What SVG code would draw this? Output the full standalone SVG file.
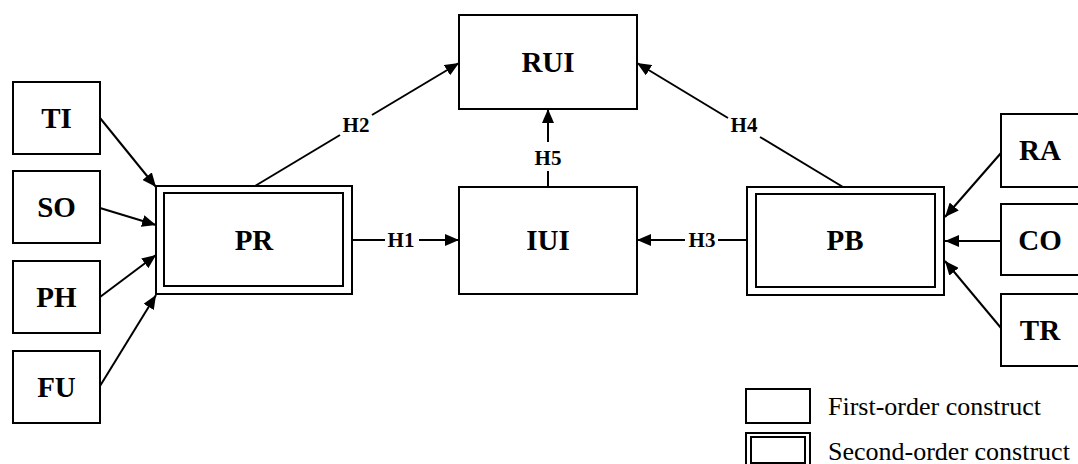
<svg xmlns="http://www.w3.org/2000/svg" width="1078" height="464" viewBox="0 0 1078 464">
  <style>
    .box{fill:#fff;stroke:#000;stroke-width:2}
    .lbl{font-family:"Liberation Serif","Times New Roman",serif;font-weight:bold;font-size:29px;text-anchor:middle;fill:#000}
    .h{font-family:"Liberation Serif","Times New Roman",serif;font-weight:bold;font-size:21px;text-anchor:middle;fill:#000}
    .leg{font-family:"Liberation Serif","Times New Roman",serif;font-size:26px;fill:#000}
    .ln{stroke:#000;stroke-width:2;fill:none}
  </style>
  <defs>
    <marker id="ah" markerUnits="userSpaceOnUse" markerWidth="14" markerHeight="12" refX="14" refY="6" orient="auto">
      <path d="M0,0 L14,6 L0,12 Z" fill="#000"/>
    </marker>
  </defs>
  <rect width="1078" height="464" fill="#fff"/>

  <g id="connectors">
    <line class="ln" x1="100" y1="118" x2="156" y2="187" marker-end="url(#ah)"/>
    <line class="ln" x1="100" y1="208" x2="156" y2="225" marker-end="url(#ah)"/>
    <line class="ln" x1="100" y1="297" x2="156" y2="255" marker-end="url(#ah)"/>
    <line class="ln" x1="100" y1="386" x2="156" y2="295" marker-end="url(#ah)"/>
    <line class="ln" x1="1001" y1="153" x2="945" y2="217" marker-end="url(#ah)"/>
    <line class="ln" x1="1001" y1="241" x2="945" y2="241" marker-end="url(#ah)"/>
    <line class="ln" x1="1001" y1="328" x2="945" y2="261" marker-end="url(#ah)"/>
    <line class="ln" x1="352" y1="240" x2="385" y2="240"/>
    <line class="ln" x1="419" y1="240" x2="459" y2="240" marker-end="url(#ah)"/>
    <text class="h" x="401" y="247">H1</text>
    <line class="ln" x1="747" y1="240" x2="718" y2="240"/>
    <line class="ln" x1="685" y1="240" x2="637" y2="240" marker-end="url(#ah)"/>
    <text class="h" x="702" y="247">H3</text>
    <line class="ln" x1="255" y1="186" x2="340" y2="135"/>
    <line class="ln" x1="372" y1="115" x2="459" y2="63" marker-end="url(#ah)"/>
    <text class="h" x="356" y="132">H2</text>
    <line class="ln" x1="843" y1="187" x2="760" y2="137"/>
    <line class="ln" x1="728" y1="118" x2="637" y2="63" marker-end="url(#ah)"/>
    <text class="h" x="744" y="132">H4</text>
    <line class="ln" x1="548" y1="187" x2="548" y2="171"/>
    <line class="ln" x1="548" y1="142" x2="548" y2="109" marker-end="url(#ah)"/>
    <text class="h" x="548" y="165">H5</text>
  </g>

  <g id="TI"><rect class="box" x="13" y="82" width="87" height="72"/><text class="lbl" x="56.5" y="128">TI</text></g>
  <g id="SO"><rect class="box" x="13" y="171" width="87" height="72"/><text class="lbl" x="56.5" y="217">SO</text></g>
  <g id="PH"><rect class="box" x="13" y="261" width="87" height="72"/><text class="lbl" x="56.5" y="307">PH</text></g>
  <g id="FU"><rect class="box" x="13" y="351" width="87" height="72"/><text class="lbl" x="56.5" y="397">FU</text></g>

  <g id="PR">
    <rect class="box" x="156" y="186" width="196" height="108"/>
    <rect class="box" x="164" y="193" width="179" height="93"/>
    <text class="lbl" x="254" y="250">PR</text>
  </g>
  <g id="RUI"><rect class="box" x="459" y="15" width="178" height="94"/><text class="lbl" x="548" y="72">RUI</text></g>
  <g id="IUI"><rect class="box" x="459" y="187" width="178" height="107"/><text class="lbl" x="548" y="250">IUI</text></g>
  <g id="PB">
    <rect class="box" x="747" y="187" width="197" height="108"/>
    <rect class="box" x="756" y="194" width="179" height="93"/>
    <text class="lbl" x="845" y="250">PB</text>
  </g>

  <g id="RA"><rect class="box" x="1001" y="114" width="90" height="73"/><text class="lbl" x="1040" y="160">RA</text></g>
  <g id="CO"><rect class="box" x="1001" y="204" width="90" height="71"/><text class="lbl" x="1040" y="250">CO</text></g>
  <g id="TR"><rect class="box" x="1001" y="294" width="90" height="72"/><text class="lbl" x="1040" y="340">TR</text></g>

  <g id="legend">
    <rect class="box" x="746" y="389" width="64" height="34"/>
    <text class="leg" x="828" y="415">First-order construct</text>
    <rect class="box" x="746" y="433" width="64" height="34"/>
    <rect class="box" x="751" y="437" width="54" height="26"/>
    <text class="leg" x="828" y="460">Second-order construct</text>
  </g>
</svg>
